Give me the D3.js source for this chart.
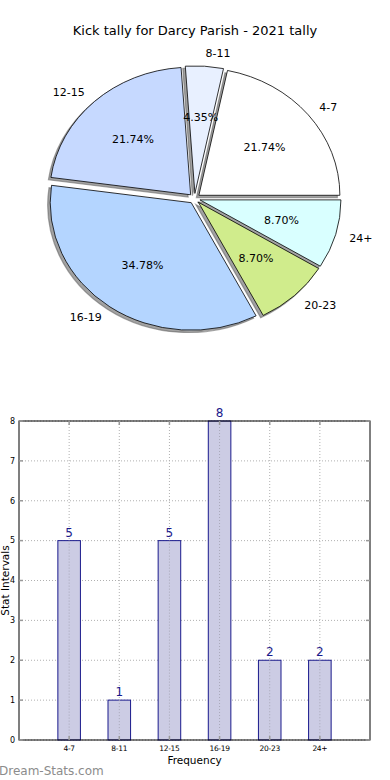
<!DOCTYPE html>
<html>
<head>
<meta charset="utf-8">
<script src="https://cdn.jsdelivr.net/npm/d3@7"></script>
<style>
  body { margin: 0; background: #fff; }
  svg { display: block; font-family: "DejaVu Sans", sans-serif; }
</style>
</head>
<body>
<script>
const W = 390, H = 780;
const title = "Kick tally for Darcy Parish - 2021 tally";
const categories = ["4-7", "8-11", "12-15", "16-19", "20-23", "24+"];
const counts = [5, 1, 5, 8, 2, 2];
const sliceColors = ["#ffffff", "#e8f0ff", "#c6d9ff", "#b4d5ff", "#d0ec8c", "#d9ffff"];
const yTicks = [0, 1, 2, 3, 4, 5, 6, 7, 8];

const svg = d3.select("body").append("svg")
    .attr("width", W)
    .attr("height", H);

svg.append("text")
    .attr("x", 195).attr("y", 35)
    .attr("text-anchor", "middle")
    .attr("font-size", 13)
    .text(title);

// pie (elliptical, counter-clockwise from 3 o'clock like matplotlib)
const cx = 194.5, cy = 198.5, rx = 141, ry = 127.5, explode = 0.04;
const total = d3.sum(counts);

const pie = d3.pie().sort(null)
    .startAngle(Math.PI / 2)
    .endAngle(Math.PI / 2 - 2 * Math.PI);
const arcs = pie(counts);
const arc = d3.arc().innerRadius(0).outerRadius(1);

// d3 angle -> offset on the ellipse
const pt = (a, r) => [Math.sin(a) * r * rx, -Math.cos(a) * r * ry];

const pieG = svg.append("g");

arcs.forEach((d, i) => {
    const mid = (d.startAngle + d.endAngle) / 2;
    const [ox, oy] = pt(mid, explode);
    // shadow
    pieG.append("path")
        .attr("d", arc(d))
        .attr("transform", `translate(${cx + ox - 2.5},${cy + oy + 2.3}) scale(${rx},${ry})`)
        .attr("fill", "#555")
        .attr("fill-opacity", 0.55)
        .attr("stroke", "#555")
        .attr("stroke-opacity", 0.5)
        .attr("stroke-width", 1.2)
        .attr("vector-effect", "non-scaling-stroke");
});

arcs.forEach((d, i) => {
    const mid = (d.startAngle + d.endAngle) / 2;
    const [ox, oy] = pt(mid, explode);
    pieG.append("path")
        .attr("d", arc(d))
        .attr("transform", `translate(${cx + ox},${cy + oy}) scale(${rx},${ry})`)
        .attr("fill", sliceColors[i])
        .attr("stroke", "#000")
        .attr("stroke-width", 0.8)
        .attr("vector-effect", "non-scaling-stroke");
});

arcs.forEach((d, i) => {
    const mid = (d.startAngle + d.endAngle) / 2;
    const [lx, ly] = pt(mid, explode + 1.1);
    pieG.append("text")
        .attr("x", cx + lx).attr("y", cy + ly)
        .attr("dy", "0.35em")
        .attr("text-anchor", Math.sin(mid) > 0 ? "start" : "end")
        .attr("font-size", 11)
        .text(categories[i]);
    const [px, py] = pt(mid, explode + 0.6);
    pieG.append("text")
        .attr("x", cx + px).attr("y", cy + py)
        .attr("dy", "0.35em")
        .attr("text-anchor", "middle")
        .attr("font-size", 11)
        .text((d.value / total * 100).toFixed(2) + "%");
});

// bar chart
const axL = 19, axR = 370, axT = 421, axB = 740;
const x = d3.scaleLinear().domain([-1, 6]).range([axL, axR]);
const y = d3.scaleLinear().domain([0, 8]).range([axB, axT]);
const barW = 0.45;

const g = svg.append("g");

// grid
g.selectAll(".hgrid").data(yTicks).enter().append("line")
    .attr("x1", axL).attr("x2", axR)
    .attr("y1", d => y(d)).attr("y2", d => y(d))
    .attr("stroke", "#b0b0b0").attr("stroke-width", 1)
    .attr("stroke-dasharray", "1,2");
g.selectAll(".vgrid").data(categories).enter().append("line")
    .attr("x1", (d, i) => x(i)).attr("x2", (d, i) => x(i))
    .attr("y1", axT).attr("y2", axB)
    .attr("stroke", "#b0b0b0").attr("stroke-width", 1)
    .attr("stroke-dasharray", "1,2");

// bars
g.selectAll(".bar").data(counts).enter().append("rect")
    .attr("x", (d, i) => x(i - barW / 2))
    .attr("y", d => y(d))
    .attr("width", x(barW) - x(0))
    .attr("height", d => y(0) - y(d))
    .attr("fill", "#ccccE4")
    .attr("stroke", "#1a1a8c")
    .attr("stroke-width", 1);

// grid over bars
g.selectAll(".vgrid2").data(counts).enter().append("line")
    .attr("x1", (d, i) => x(i)).attr("x2", (d, i) => x(i))
    .attr("y1", d => y(d)).attr("y2", axB)
    .attr("stroke", "#a8a8b8").attr("stroke-width", 1)
    .attr("stroke-dasharray", "1,2");

g.selectAll(".val").data(counts).enter().append("text")
    .attr("x", (d, i) => x(i))
    .attr("y", d => y(d) - 4)
    .attr("text-anchor", "middle")
    .attr("font-size", 12)
    .attr("fill", "#1a1a8c")
    .text(d => d);

// frame
g.append("rect")
    .attr("x", axL).attr("y", axT)
    .attr("width", axR - axL).attr("height", axB - axT)
    .attr("fill", "none").attr("stroke", "#000").attr("stroke-width", 1);

// ticks (inside, gray)
yTicks.forEach(t => {
    g.append("line").attr("x1", axL).attr("x2", axL + 4)
        .attr("y1", y(t)).attr("y2", y(t)).attr("stroke", "#999").attr("stroke-width", 1.5);
    g.append("line").attr("x1", axR - 4).attr("x2", axR)
        .attr("y1", y(t)).attr("y2", y(t)).attr("stroke", "#999").attr("stroke-width", 1.5);
});
categories.forEach((c, i) => {
    g.append("line").attr("x1", x(i)).attr("x2", x(i))
        .attr("y1", axT).attr("y2", axT + 4).attr("stroke", "#999").attr("stroke-width", 1.5);
    g.append("line").attr("x1", x(i)).attr("x2", x(i))
        .attr("y1", axB - 4).attr("y2", axB).attr("stroke", "#999").attr("stroke-width", 1.5);
});

// tick labels
g.selectAll(".ylab").data(yTicks).enter().append("text")
    .attr("x", axL - 4).attr("y", d => y(d))
    .attr("dy", "0.35em")
    .attr("text-anchor", "end")
    .attr("font-size", 8)
    .text(d => d);
g.selectAll(".xlab").data(categories).enter().append("text")
    .attr("x", (d, i) => x(i)).attr("y", axB + 11)
    .attr("text-anchor", "middle")
    .attr("font-size", 7.5)
    .attr("letter-spacing", "-0.3")
    .text(d => d);

svg.append("text")
    .attr("x", (axL + axR) / 2).attr("y", 764)
    .attr("text-anchor", "middle")
    .attr("font-size", 10.5)
    .text("Frequency");

svg.append("text")
    .attr("transform", `translate(9,${(axT + axB) / 2}) rotate(-90)`)
    .attr("text-anchor", "middle")
    .attr("font-size", 10.5)
    .text("Stat Intervals");

svg.append("text")
    .attr("x", -1).attr("y", 775)
    .attr("font-size", 12)
    .attr("fill", "#8c8c8c")
    .text("Dream-Stats.com");
</script>
</body>
</html>
